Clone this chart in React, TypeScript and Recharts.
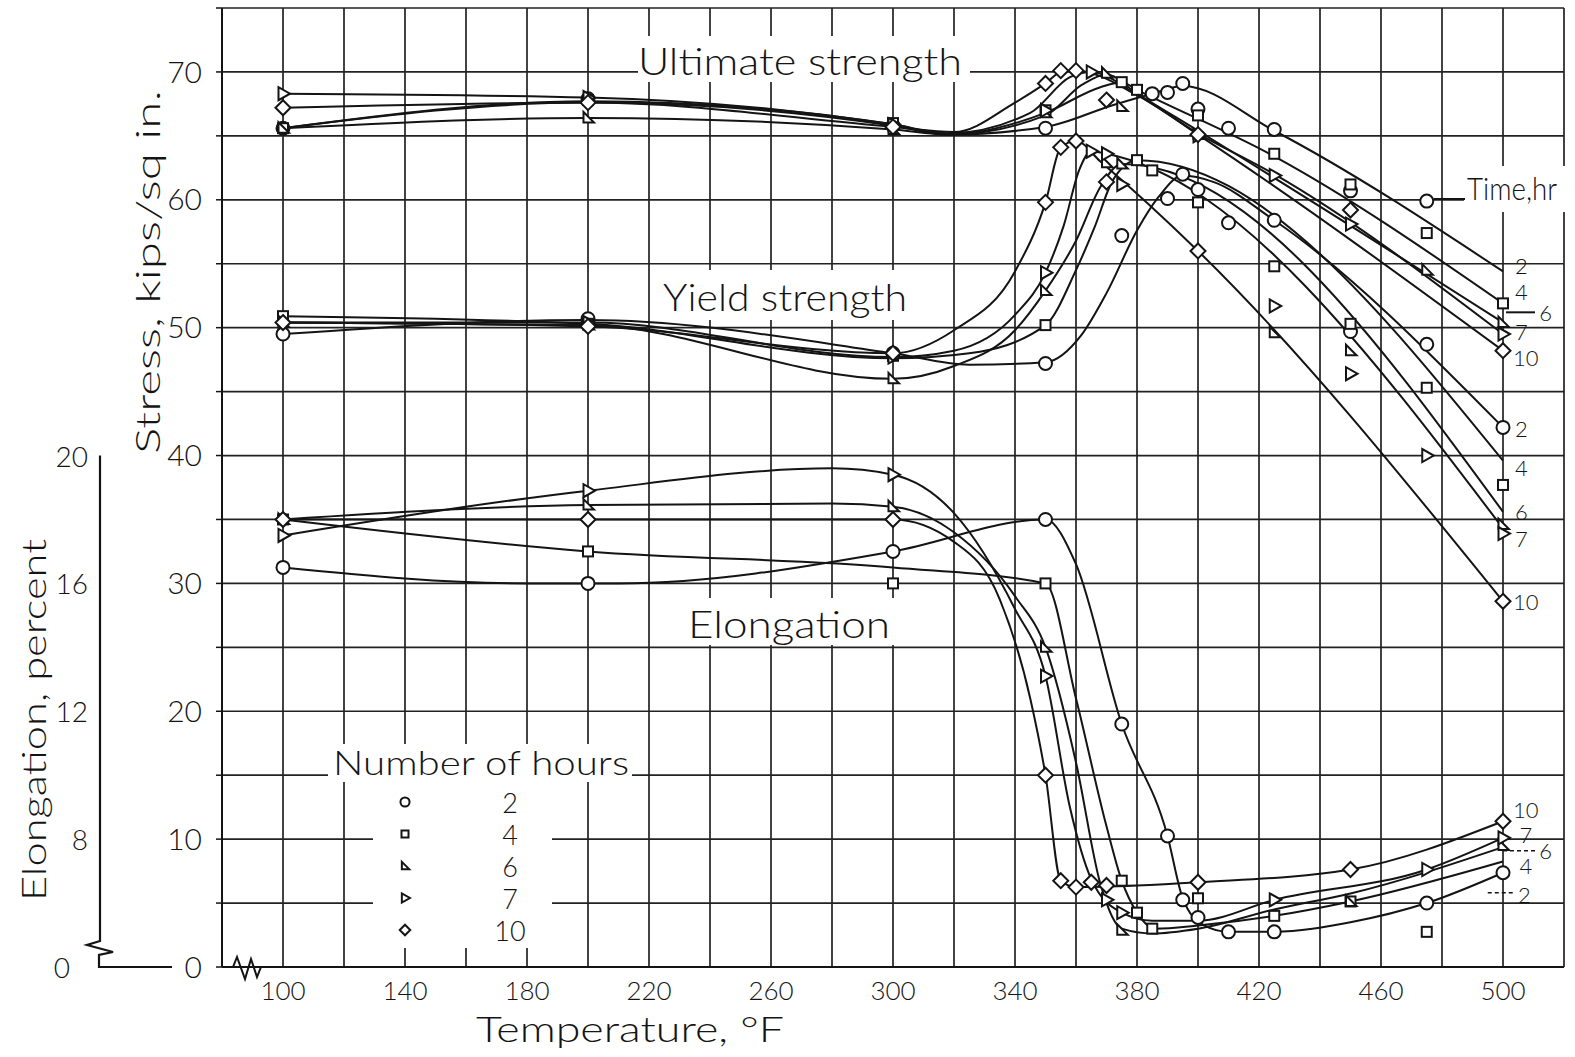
import React from "react"
import { ComposedChart, Line, Scatter, XAxis, YAxis, CartesianGrid, Customized } from "recharts"

// temperature, deg F -> stress, kips/sq in.
const ULT_2_CURVE = [[100, 65.6], [200, 67.6], [300, 65.8], [318, 65.1], [350, 65.7], [372, 67.4], [385, 68.3], [395, 68.9], [425, 65.4], [500, 54.4]]
const ULT_2_PTS = [[100, 65.6], [200, 67.9], [300, 65.8], [350, 65.6], [385, 68.3], [390, 68.4], [395, 69.1], [400, 67.1], [410, 65.6], [425, 65.5], [450, 60.7], [475, 59.9]]
const ULT_4_CURVE = [[100, 65.6], [200, 67.7], [300, 65.9], [318, 65.1], [350, 66.8], [368, 68.8], [375, 69.2], [380, 68.6], [425, 63.4], [500, 51.9]]
const ULT_4_PTS = [[100, 65.6], [200, 67.8], [300, 66.0], [350, 67.0], [375, 69.2], [380, 68.6], [400, 66.6], [425, 63.6], [450, 61.2], [475, 57.4], [500, 51.9]]
const ULT_6_CURVE = [[100, 65.6], [200, 66.4], [300, 65.5], [318, 65.1], [350, 66.6], [362, 69.0], [370, 69.8], [380, 68.3], [400, 65.4], [500, 50.4]]
const ULT_6_PTS = [[100, 65.6], [200, 66.4], [300, 65.5], [350, 66.8], [370, 69.9], [375, 67.3], [400, 65.1], [475, 54.5], [500, 50.4]]
const ULT_7_CURVE = [[100, 68.3], [200, 68.0], [300, 65.9], [318, 65.2], [345, 66.8], [358, 69.6], [365, 70.0], [380, 68.2], [400, 65.2], [425, 62.0], [500, 49.5]]
const ULT_7_PTS = [[100, 68.3], [200, 68.0], [300, 65.9], [350, 67.0], [365, 70.0], [400, 65.0], [425, 61.9], [450, 58.1], [500, 49.5]]
const ULT_10_CURVE = [[100, 67.2], [200, 67.6], [300, 65.7], [320, 65.3], [340, 67.6], [350, 69.1], [356, 70.1], [360, 70.1], [380, 68.2], [400, 65.1], [500, 48.2]]
const ULT_10_PTS = [[100, 67.2], [200, 67.6], [300, 65.7], [350, 69.1], [355, 70.1], [360, 70.1], [370, 67.8], [400, 65.1], [450, 59.2], [500, 48.2]]

const YLD_2_CURVE = [[100, 49.5], [200, 50.6], [300, 48.0], [325, 47.1], [350, 47.3], [362, 49.5], [370, 52.7], [380, 57.6], [387, 60.2], [395, 61.9], [405, 61.4], [425, 58.4], [500, 42.2]]
const YLD_2_PTS = [[100, 49.5], [200, 50.7], [300, 48.0], [350, 47.2], [375, 57.2], [390, 60.1], [395, 62.0], [400, 60.8], [410, 58.2], [425, 58.4], [450, 49.7], [475, 48.7], [500, 42.2]]
const YLD_4_CURVE = [[100, 50.9], [200, 50.3], [300, 47.6], [325, 48.0], [350, 50.2], [360, 54.5], [366, 57.8], [372, 61.5], [380, 63.1], [500, 39.6]]
const YLD_4_PTS = [[100, 50.9], [200, 50.3], [300, 47.8], [350, 50.2], [380, 63.1], [385, 62.3], [400, 59.8], [425, 54.8], [450, 50.3], [475, 45.3], [500, 37.7]]
const YLD_6_CURVE = [[100, 50.4], [200, 50.2], [300, 46.0], [320, 47.0], [340, 49.8], [350, 52.9], [360, 56.8], [368, 61.0], [375, 62.8], [500, 35.6]]
const YLD_6_PTS = [[100, 50.4], [200, 50.2], [300, 46.0], [350, 52.9], [370, 62.9], [375, 62.8], [425, 49.6], [450, 48.2], [500, 34.6]]
const YLD_7_CURVE = [[100, 50.4], [200, 50.4], [300, 47.7], [320, 48.2], [340, 51.0], [350, 54.3], [356, 58.0], [361, 62.3], [365, 63.8], [370, 63.6], [500, 34.3]]
const YLD_7_PTS = [[100, 50.4], [200, 50.4], [300, 47.7], [350, 54.3], [365, 63.8], [370, 63.6], [375, 61.2], [425, 51.7], [450, 46.4], [475, 40.0], [500, 33.9]]
const YLD_10_CURVE = [[100, 50.4], [200, 50.1], [300, 48.0], [320, 49.8], [340, 54.4], [350, 59.8], [355, 64.1], [360, 64.6], [368, 63.0], [400, 56.0], [500, 28.6]]
const YLD_10_PTS = [[100, 50.4], [200, 50.1], [300, 48.0], [350, 59.8], [355, 64.1], [360, 64.6], [370, 61.4], [400, 56.0], [500, 28.6]]

// temperature, deg F -> elongation, percent
const ELG_2_CURVE = [[100, 16.5], [180, 16.0], [210, 16.0], [300, 17.0], [350, 18.0], [360, 16.6], [375, 11.6], [390, 8.1], [395, 4.3], [402, 2.6], [410, 2.2], [425, 2.2], [450, 2.8], [475, 4.0], [500, 5.9]]
const ELG_2_PTS = [[100, 16.5], [200, 16.0], [300, 17.0], [350, 18.0], [375, 11.6], [390, 8.1], [395, 4.2], [400, 3.1], [410, 2.2], [425, 2.2], [475, 4.0], [500, 5.9]]
const ELG_4_CURVE = [[100, 18.0], [200, 17.0], [300, 16.5], [350, 16.0], [360, 12.4], [370, 8.4], [375, 5.4], [380, 3.4], [386, 2.4], [400, 2.6], [425, 3.2], [450, 4.1], [500, 6.6]]
const ELG_4_PTS = [[100, 18.0], [200, 17.0], [300, 16.0], [350, 16.0], [375, 5.4], [380, 3.4], [385, 2.4], [400, 4.3], [425, 3.2], [450, 4.1], [475, 2.2]]
const ELG_6_CURVE = [[100, 18.0], [200, 18.45], [280, 18.5], [300, 18.4], [320, 17.6], [340, 15.6], [350, 14.0], [360, 10.4], [368, 5.2], [375, 2.4], [385, 2.1], [400, 2.4], [425, 3.6], [450, 4.6], [500, 7.5]]
const ELG_6_PTS = [[100, 18.0], [200, 18.45], [300, 18.4], [350, 14.0], [375, 2.3], [450, 4.1], [500, 7.6]]
const ELG_7_CURVE = [[100, 17.5], [200, 18.9], [280, 19.6], [300, 19.4], [320, 18.2], [340, 15.2], [350, 13.1], [358, 9.0], [365, 5.5], [375, 3.4], [385, 2.9], [400, 2.9], [425, 4.2], [475, 6.1], [500, 8.04]]
const ELG_7_PTS = [[100, 17.5], [200, 18.9], [300, 19.4], [350, 13.1], [370, 4.2], [375, 3.4], [425, 4.2], [475, 6.1], [500, 8.04]]
const ELG_10_CURVE = [[100, 18.0], [200, 18.0], [300, 18.0], [320, 17.3], [335, 15.5], [345, 12.4], [350, 10.0], [355, 5.4], [360, 5.0], [380, 5.1], [400, 5.3], [450, 6.1], [500, 8.56]]
const ELG_10_PTS = [[100, 18.0], [200, 18.0], [300, 18.0], [350, 10.0], [355, 5.4], [360, 5.0], [365, 5.3], [370, 5.1], [400, 5.3], [450, 6.1], [500, 8.56]]

const HOURS = [2, 4, 6, 7, 10]
const TEMP_TICKS = [80, 100, 120, 140, 160, 180, 200, 220, 240, 260, 280, 300, 320, 340, 360, 380, 400, 420, 440, 460, 480, 500, 520]
const TEMP_LABELS = [100, 140, 180, 220, 260, 300, 340, 380, 420, 460, 500]
const STRESS_TICKS = [0, 5, 10, 15, 20, 25, 30, 35, 40, 45, 50, 55, 60, 65, 70, 75]
const STRESS_LABELS = [0, 10, 20, 30, 40, 50, 60, 70]
const ELONG_LABELS = [0, 8, 12, 16, 20]

// end-of-line "time, hr" labels, placed on the stress scale: [temp, stress, text]
const ULT_END_LABELS = [[506, 54.9, "2"], [506, 52.8, "4"], [514, 51.2, "6"], [506, 49.7, "7"], [507.5, 47.7, "10"]]
const YLD_END_LABELS = [[506, 42.1, "2"], [506, 39.1, "4"], [506, 35.6, "6"], [506, 33.5, "7"], [507.5, 28.6, "10"]]
const ELG_END_LABELS = [[507.5, 12.3, "10"], [507.5, 10.4, "7"], [514, 9.1, "6"], [507.5, 7.9, "4"], [507, 5.7, "2"]]

const W = 1575
const H = 1057
const ELONG_AXIS_W = 100
const MARGIN = { top: 8, right: 11, left: ELONG_AXIS_W, bottom: 0 }
const X_AXIS_H = 90
const STRESS_AXIS_W = 122
const T_MIN = 80
const T_MAX = 520
const S_MAX = 75
const PLOT_L = MARGIN.left + STRESS_AXIS_W
const PLOT_R = W - MARGIN.right
const PLOT_T = MARGIN.top
const PLOT_B = H - MARGIN.bottom - X_AXIS_H
const px = (t: number) => PLOT_L + ((t - T_MIN) / (T_MAX - T_MIN)) * (PLOT_R - PLOT_L)
const py = (s: number) => PLOT_B - (s / S_MAX) * (PLOT_B - PLOT_T)

const FONT = 'Lato, "Open Sans", "DejaVu Sans", sans-serif'
const INK = "#141414"

// elongation shares the stress scale; its axis is broken below 8 percent
const elongToPlot = (e: number) => (e >= 8 ? 10 + (e - 8) * 2.5 : e * 1.25)

type Marker = "circle" | "square" | "tri6" | "tri7" | "diamond"
const MARKERS: Marker[] = ["circle", "square", "tri6", "tri7", "diamond"]

function markerEl(kind: Marker, cx: number, cy: number, k = 1) {
  const p = { fill: "#fff", stroke: INK, strokeWidth: 2 }
  if (kind === "circle") return <circle cx={cx} cy={cy} r={6.5 * k} {...p} />
  if (kind === "square") return <rect x={cx - 5 * k} y={cy - 5 * k} width={10 * k} height={10 * k} {...p} />
  if (kind === "tri6")
    return <polygon points={`${cx - 4.5 * k},${cy - 6 * k} ${cx - 4.5 * k},${cy + 4.5 * k} ${cx + 6 * k},${cy + 4.5 * k}`} {...p} />
  if (kind === "tri7")
    return <polygon points={`${cx - 4.5 * k},${cy - 6.5 * k} ${cx - 4.5 * k},${cy + 6.5 * k} ${cx + 7 * k},${cy}`} {...p} />
  return <polygon points={`${cx},${cy - 7.5 * k} ${cx + 7.5 * k},${cy} ${cx},${cy + 7.5 * k} ${cx - 7.5 * k},${cy}`} {...p} />
}

const toRows = (arr: number[][], conv = (v: number) => v) => arr.map(([t, v]) => ({ t, v: conv(v) }))

const series = [
  { id: "u2", curve: ULT_2_CURVE, pts: ULT_2_PTS, elong: false, m: 0 },
  { id: "u4", curve: ULT_4_CURVE, pts: ULT_4_PTS, elong: false, m: 1 },
  { id: "u6", curve: ULT_6_CURVE, pts: ULT_6_PTS, elong: false, m: 2 },
  { id: "u7", curve: ULT_7_CURVE, pts: ULT_7_PTS, elong: false, m: 3 },
  { id: "u10", curve: ULT_10_CURVE, pts: ULT_10_PTS, elong: false, m: 4 },
  { id: "y2", curve: YLD_2_CURVE, pts: YLD_2_PTS, elong: false, m: 0 },
  { id: "y4", curve: YLD_4_CURVE, pts: YLD_4_PTS, elong: false, m: 1 },
  { id: "y6", curve: YLD_6_CURVE, pts: YLD_6_PTS, elong: false, m: 2 },
  { id: "y7", curve: YLD_7_CURVE, pts: YLD_7_PTS, elong: false, m: 3 },
  { id: "y10", curve: YLD_10_CURVE, pts: YLD_10_PTS, elong: false, m: 4 },
  { id: "e2", curve: ELG_2_CURVE, pts: ELG_2_PTS, elong: true, m: 0 },
  { id: "e4", curve: ELG_4_CURVE, pts: ELG_4_PTS, elong: true, m: 1 },
  { id: "e6", curve: ELG_6_CURVE, pts: ELG_6_PTS, elong: true, m: 2 },
  { id: "e7", curve: ELG_7_CURVE, pts: ELG_7_PTS, elong: true, m: 3 },
  { id: "e10", curve: ELG_10_CURVE, pts: ELG_10_PTS, elong: true, m: 4 },
]

function txt(x: number, y: number, s: string, size: number, extra: any = {}) {
  return (
    <text x={x} y={y} fontSize={size} fontFamily={FONT} fontWeight={300} fill={INK} textAnchor="middle" dominantBaseline="central" {...extra}>
      {s}
    </text>
  )
}

function Decor() {
  const e0 = py(0)
  const e20 = py(elongToPlot(20))
  const ax = MARGIN.left
  return (
    <g>
      {/* blank boxes behind the titles */}
      <rect x={638} y={36} width={332} height={46} fill="#fff" />
      <rect x={655} y={270} width={258} height={50} fill="#fff" />
      <rect x={680} y={598} width={218} height={47} fill="#fff" />
      <rect x={1464} y={166} width={111} height={46} fill="#fff" />
      <rect x={328} y={744} width={304} height={38} fill="#fff" />
      <rect x={373} y={782} width={179} height={166} fill="#fff" />

      {txt(800, 60, "Ultimate strength", 38, { textLength: 324, lengthAdjust: "spacingAndGlyphs" })}
      {txt(785, 296, "Yield strength", 38, { textLength: 244, lengthAdjust: "spacingAndGlyphs" })}
      {txt(789, 623, "Elongation", 38, { textLength: 202, lengthAdjust: "spacingAndGlyphs" })}
      {txt(1467, 187, "Time,hr", 32, { textAnchor: "start", textLength: 90, lengthAdjust: "spacingAndGlyphs" })}
      <line x1={px(475) + 7} y1={199} x2={1465} y2={199} stroke={INK} strokeWidth={2} />

      {/* legend */}
      {txt(481, 762, "Number of hours", 33, { textLength: 296, lengthAdjust: "spacingAndGlyphs" })}
      {HOURS.map((h, i) => (
        <g key={h}>
          {markerEl(MARKERS[i], 405, 802 + i * 32, 0.7)}
          {txt(510, 802 + i * 32, String(h), 27)}
        </g>
      ))}

      {/* end labels */}
      {[...ULT_END_LABELS, ...YLD_END_LABELS, ...ELG_END_LABELS].map(([t, v, s], i) => (
        <g key={i}>{txt(px(t as number), py(v as number), s as string, 22)}</g>
      ))}
      <line x1={px(501)} y1={py(51.2)} x2={px(510.5)} y2={py(51.2)} stroke={INK} strokeWidth={2} />
      <line x1={px(500)} y1={py(9.1)} x2={px(510.5)} y2={py(9.1)} stroke={INK} strokeWidth={1.5} strokeDasharray="4 3" />
      <line x1={px(495)} y1={py(5.8)} x2={px(504)} y2={py(5.8)} stroke={INK} strokeWidth={1.5} strokeDasharray="4 3" />

      {/* axis titles */}
      {txt(146, 272, "Stress, kips/sq in.", 34, { transform: "rotate(-90 146 272)", textLength: 364, lengthAdjust: "spacingAndGlyphs" })}
      {txt(32, 720, "Elongation, percent", 34, { transform: "rotate(-90 32 720)", textLength: 362, lengthAdjust: "spacingAndGlyphs" })}
      {txt(630, 1028, "Temperature, °F", 36, { textLength: 308, lengthAdjust: "spacingAndGlyphs" })}

      {/* broken elongation axis, sharing the stress scale */}
      {ELONG_LABELS.map((e) => (
        <g key={e}>{txt(ax - 12 - (e === 0 ? 18 : 0), py(elongToPlot(e)), String(e), 28, { textAnchor: "end" })}</g>
      ))}
      <path
        d={`M${ax},${e20} L${ax},${e0 - 26} L${ax - 13},${e0 - 22} L${ax + 13},${e0 - 15} L${ax - 1},${e0 - 12} L${ax - 1},${e0} L${ax + 72},${e0}`}
        fill="none"
        stroke={INK}
        strokeWidth={2.2}
      />
      {/* break in temperature axis */}
      <rect x={PLOT_L + 2} y={e0 - 12} width={44} height={24} fill="#fff" />
      <path
        d={`M${PLOT_L},${e0} L${PLOT_L + 11},${e0} L${PLOT_L + 15},${e0 - 10} L${PLOT_L + 23},${e0 + 12} L${PLOT_L + 29},${e0 - 8} L${PLOT_L + 35},${e0 + 10} L${PLOT_L + 39},${e0} L${PLOT_L + 60},${e0}`}
        fill="none"
        stroke={INK}
        strokeWidth={2}
      />
    </g>
  )
}

export default function App() {
  return (
    <div style={{ position: "absolute", left: 0, top: 0, width: W, height: H, background: "#fff" }}>
      <ComposedChart width={W} height={H} margin={MARGIN}>
        <XAxis
          dataKey="t"
          type="number"
          domain={[T_MIN, T_MAX]}
          ticks={TEMP_TICKS}
          tickFormatter={(v) => (TEMP_LABELS.includes(v) ? String(v) : "")}
          height={X_AXIS_H}
          tickLine={false}
          tickMargin={9}
          axisLine={{ stroke: INK, strokeWidth: 2 }}
          tick={{ fontSize: 26, fontFamily: FONT, fontWeight: 300, fill: INK }}
        />
        <YAxis
          dataKey="v"
          type="number"
          domain={[0, S_MAX]}
          ticks={STRESS_TICKS}
          tickFormatter={(v) => (STRESS_LABELS.includes(v) ? String(v) : "")}
          width={STRESS_AXIS_W}
          tickSize={6}
          tickMargin={14}
          axisLine={{ stroke: INK, strokeWidth: 2 }}
          tickLine={{ stroke: INK, strokeWidth: 1.5 }}
          tick={{ fontSize: 30, fontFamily: FONT, fontWeight: 300, fill: INK }}
        />
        <CartesianGrid stroke="#222" strokeWidth={1.7} />
        <Customized component={Decor} />
        {series.map((s) => (
          <Line
            key={s.id + "-l"}
            data={toRows(s.curve, s.elong ? elongToPlot : undefined)}
            dataKey="v"
            type="monotone"
            stroke={INK}
            strokeWidth={2}
            dot={false}
            activeDot={false}
            isAnimationActive={false}
          />
        ))}
        {series.map((s) => (
          <Scatter
            key={s.id + "-p"}
            data={toRows(s.pts, s.elong ? elongToPlot : undefined)}
            dataKey="v"
            isAnimationActive={false}
            shape={(p: any) => markerEl(MARKERS[s.m], p.cx, p.cy)}
          />
        ))}
      </ComposedChart>
    </div>
  )
}
